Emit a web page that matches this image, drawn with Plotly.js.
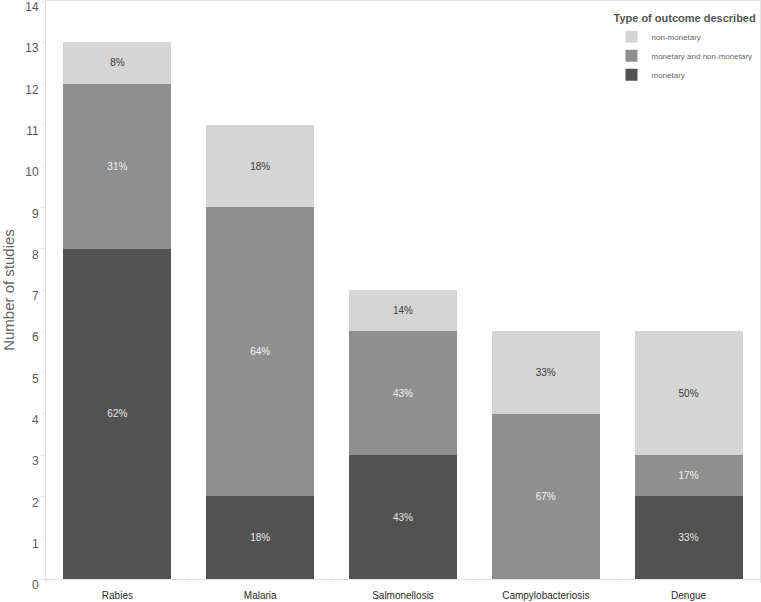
<!DOCTYPE html>
<html>
<head>
<meta charset="utf-8">
<script src="https://cdn.plot.ly/plotly-3.0.1.min.js"></script>
<style>html,body{margin:0;padding:0;background:#fff;}#chart{width:761px;height:602px;}</style>
</head>
<body>
<div id="chart"></div>
<script>
const categories = ["Rabies", "Malaria", "Salmonellosis", "Campylobacteriosis", "Dengue"];
const monetary = [8, 2, 3, 0, 2];
const monetaryAndNon = [4, 7, 3, 4, 1];
const nonMonetary = [1, 2, 1, 2, 3];
const monetaryPct = ["62%", "18%", "43%", "", "33%"];
const monetaryAndNonPct = ["31%", "64%", "43%", "67%", "17%"];
const nonMonetaryPct = ["8%", "18%", "14%", "33%", "50%"];
const yTicks = [0,1,2,3,4,5,6,7,8,9,10,11,12,13,14];

const font = "Liberation Sans, Arial, sans-serif";
function trace(name, y, text, color, tcolor) {
  return {
    type: "bar", name: name, x: categories, y: y, text: text,
    textposition: "inside", insidetextanchor: "middle", textangle: 0,
    textfont: {family: font, size: 10, color: tcolor},
    constraintext: "none",
    marker: {color: color, line: {width: 0}},
    hoverinfo: "none"
  };
}
const data = [
  trace("monetary", monetary, monetaryPct, "#525252", "#e6e6e6"),
  trace("monetary and non-monetary", monetaryAndNon, monetaryAndNonPct, "#8f8f8f", "#f2f2f2"),
  trace("non-monetary", nonMonetary, nonMonetaryPct, "#d5d5d5", "#3a3a3a")
];
const layout = {
  width: 761, height: 602,
  margin: {l: 46, r: 1, t: 1, b: 23},
  barmode: "stack", bargap: 0.245,
  paper_bgcolor: "#fff", plot_bgcolor: "#fff",
  font: {family: font, color: "#555"},
  showlegend: true,
  legend: {
    x: 0.792, y: 0.988, xanchor: "left", yanchor: "top",
    traceorder: "reversed",
    title: {text: "<b>Type of outcome described</b>", font: {size: 11, color: "#555"}, side: "top"},
    font: {size: 8, color: "#666"},
    itemwidth: 30,
    bgcolor: "rgba(0,0,0,0)"
  },
  xaxis: {
    type: "category",
    showline: true, linecolor: "#e3e3e3", linewidth: 1,
    ticks: "outside", tickson: "boundaries", ticklen: 3, tickcolor: "#e3e3e3",
    tickfont: {size: 10, color: "#2a2a2a", family: font},
    ticklabelstandoff: 7,
    showgrid: false, zeroline: false, fixedrange: true,
    mirror: true
  },
  yaxis: {
    range: [0, 14], tickvals: yTicks, ticktext: yTicks.map(String),
    showline: true, linecolor: "#e3e3e3", linewidth: 1,
    ticks: "outside", ticklen: 4, tickcolor: "#e3e3e3",
    tickfont: {size: 12, color: "#5a5a5a"},
    ticklabelshift: 6,
    showgrid: false, zeroline: false, mirror: true,
    title: {text: "Number of studies", font: {size: 15, color: "#666"}, standoff: 10}
  }
};
Plotly.newPlot("chart", data, layout, {displayModeBar: false, staticPlot: true});
</script>
</body>
</html>
